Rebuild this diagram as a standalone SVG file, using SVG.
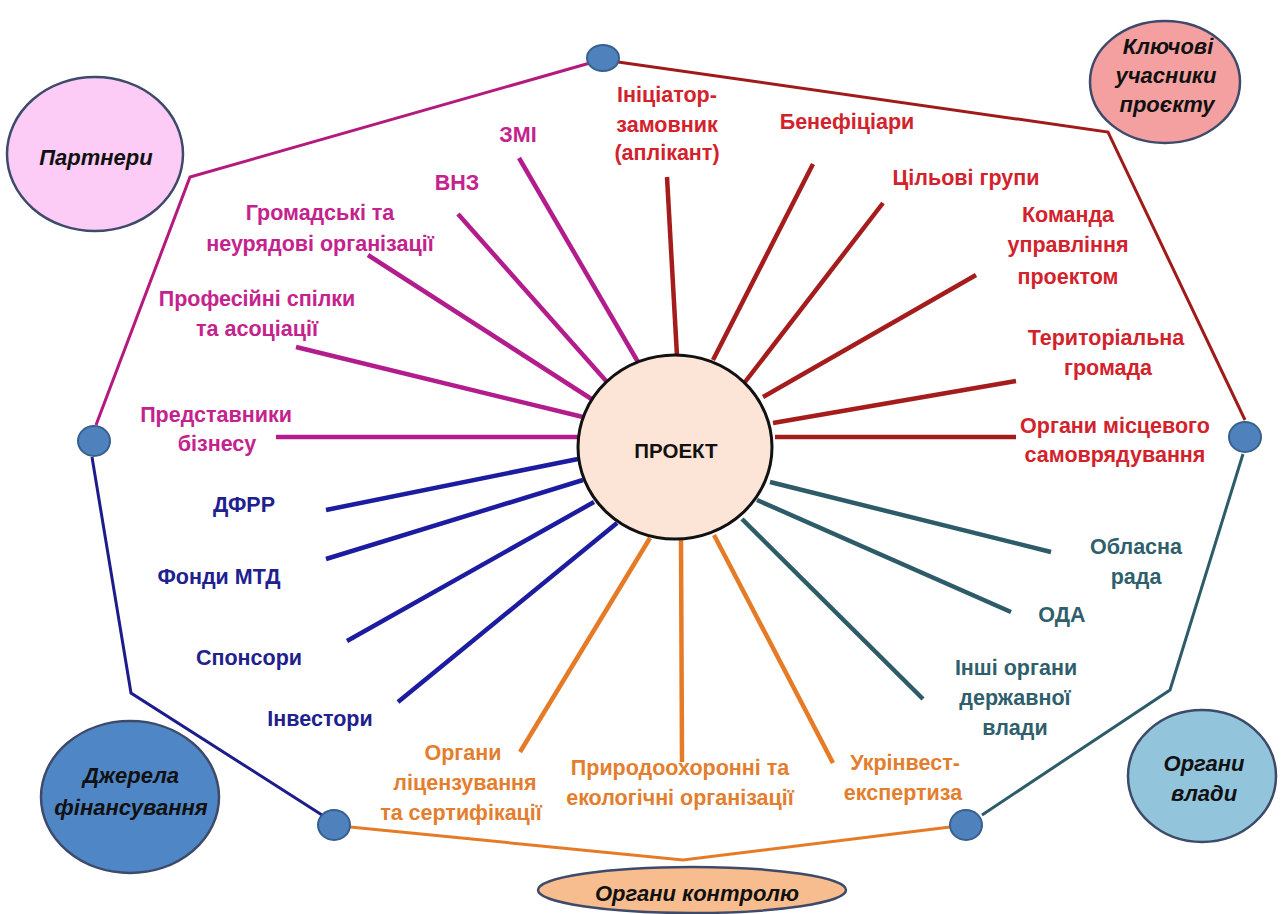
<svg xmlns="http://www.w3.org/2000/svg" width="1283" height="914" viewBox="0 0 1283 914">
<style>
text{font-family:"Liberation Sans",Arial,sans-serif;font-weight:bold;text-anchor:middle;dominant-baseline:central}
.lbl{font-size:21.5px}
.cat{font-size:22px;font-style:italic;fill:#111}
.oval{stroke:#3E4A6A;stroke-width:2.5}
.dot{fill:#4F81BD;stroke:#38608F;stroke-width:2}
.sp{stroke-width:4.5;stroke-linecap:butt;fill:none}
.pl{stroke-width:3;fill:none;stroke-linejoin:miter}
.mg{stroke:#B21C8C}.mgt{fill:#C4238E}
.rd{stroke:#A51C1C}.rdt{fill:#D2222C}
.bl{stroke:#1C1CA0}.blt{fill:#20208E}
.tl{stroke:#2D5C68}.tlt{fill:#2F5F6C}
.or{stroke:#E57B26}.ort{fill:#E37E2E}
</style>
<rect width="1283" height="914" fill="#fff"/>
<g id="connectors">
<polyline class="pl" stroke="#B4197E" points="590,63 190,177 96,425"/>
<polyline class="pl" stroke="#A01A1A" points="618,62 1108,132 1245,420"/>
<polyline class="pl" stroke="#1C1C8C" points="92,457 131,693 322,815"/>
<polyline class="pl" stroke="#E57B26" points="350,827 683,860 950,827"/>
<polyline class="pl" stroke="#2D5C68" points="982,815 1170,690 1243,454"/>
<line class="sp mg" x1="519" y1="158" x2="638" y2="362"/>
<line class="sp mg" x1="458" y1="214" x2="607" y2="382"/>
<line class="sp mg" x1="368" y1="255" x2="593" y2="400"/>
<line class="sp mg" x1="296" y1="347" x2="583" y2="417"/>
<line class="sp mg" x1="276" y1="437" x2="578" y2="437"/>
<line class="sp rd" x1="667" y1="177" x2="677" y2="356"/>
<line class="sp rd" x1="813" y1="164" x2="713" y2="360"/>
<line class="sp rd" x1="883" y1="203" x2="745" y2="382"/>
<line class="sp rd" x1="976" y1="275" x2="763" y2="397"/>
<line class="sp rd" x1="1016" y1="381" x2="773" y2="423"/>
<line class="sp rd" x1="1016" y1="437" x2="775" y2="437"/>
<line class="sp tl" x1="770" y1="482" x2="1051" y2="552"/>
<line class="sp tl" x1="757" y1="500" x2="1011" y2="612"/>
<line class="sp tl" x1="742" y1="519" x2="923" y2="699"/>
<line class="sp or" x1="650" y1="538" x2="520" y2="752"/>
<line class="sp or" x1="681" y1="540" x2="682" y2="762"/>
<line class="sp or" x1="714" y1="535" x2="833" y2="763"/>
<line class="sp bl" x1="326" y1="510" x2="578" y2="459"/>
<line class="sp bl" x1="326" y1="559" x2="583" y2="480"/>
<line class="sp bl" x1="347" y1="641" x2="594" y2="502"/>
<line class="sp bl" x1="398" y1="702" x2="617" y2="523"/>
</g>
<g id="dots">
<ellipse class="dot" cx="603" cy="58" rx="16" ry="13"/>
<ellipse class="dot" cx="94" cy="441" rx="16" ry="15"/>
<ellipse class="dot" cx="1245" cy="437" rx="16" ry="15"/>
<ellipse class="dot" cx="334" cy="825" rx="16" ry="15"/>
<ellipse class="dot" cx="966" cy="825" rx="16" ry="15"/>
</g>
<g id="project">
<ellipse cx="675" cy="447" rx="97" ry="92" fill="#FCE4D6" stroke="#111" stroke-width="3"/>
<text x="676" y="450" font-size="20.5" fill="#111">ПРОЕКТ</text>
</g>
<g id="partners">
<ellipse class="oval" cx="95" cy="154" rx="88" ry="77" fill="#FCCCF6"/>
<text class="cat" x="96" y="157">Партнери</text>
</g>
<g id="key-participants">
<ellipse class="oval" cx="1165" cy="82" rx="75" ry="61" fill="#F4A0A0"/>
<text class="cat" x="1168" y="46">Ключові</text>
<text class="cat" x="1166" y="75">учасники</text>
<text class="cat" x="1167" y="104">проєкту</text>
</g>
<g id="financing">
<ellipse class="oval" cx="130" cy="797" rx="89" ry="76" fill="#4F86C6"/>
<text class="cat" x="131" y="775">Джерела</text>
<text class="cat" x="131" y="807">фінансування</text>
</g>
<g id="authorities">
<ellipse class="oval" cx="1202" cy="776" rx="74" ry="66" fill="#92C5DC"/>
<text class="cat" x="1204" y="763">Органи</text>
<text class="cat" x="1204" y="793">влади</text>
</g>
<g id="control">
<ellipse class="oval" cx="692" cy="890" rx="154" ry="23" fill="#F8BD8E"/>
<text class="cat" x="697" y="893">Органи контролю</text>
</g>
<g id="zmi"><text class="lbl mgt" x="518" y="135">ЗМІ</text></g>
<g id="vnz"><text class="lbl mgt" x="457" y="183">ВНЗ</text></g>
<g id="ngo"><text class="lbl mgt" x="320" y="213">Громадські та</text><text class="lbl mgt" x="320" y="244">неурядові організації</text></g>
<g id="unions"><text class="lbl mgt" x="257" y="299">Професійні спілки</text><text class="lbl mgt" x="257" y="329">та асоціації</text></g>
<g id="business"><text class="lbl mgt" x="216" y="415">Представники</text><text class="lbl mgt" x="217" y="444">бізнесу</text></g>
<g id="initiator"><text class="lbl rdt" x="667" y="95">Ініціатор-</text><text class="lbl rdt" x="667" y="125">замовник</text><text class="lbl rdt" x="667" y="153">(аплікант)</text></g>
<g id="beneficiaries"><text class="lbl rdt" x="847" y="122">Бенефіціари</text></g>
<g id="target-groups"><text class="lbl rdt" x="966" y="178">Цільові групи</text></g>
<g id="team"><text class="lbl rdt" x="1068" y="215">Команда</text><text class="lbl rdt" x="1068" y="245">управління</text><text class="lbl rdt" x="1068" y="277">проектом</text></g>
<g id="community"><text class="lbl rdt" x="1106" y="338">Територіальна</text><text class="lbl rdt" x="1108" y="368">громада</text></g>
<g id="local-gov"><text class="lbl rdt" x="1115" y="426">Органи місцевого</text><text class="lbl rdt" x="1115" y="455">самоврядування</text></g>
<g id="oblrada"><text class="lbl tlt" x="1136" y="547">Обласна</text><text class="lbl tlt" x="1136" y="577">рада</text></g>
<g id="oda"><text class="lbl tlt" x="1062" y="615">ОДА</text></g>
<g id="other-gov"><text class="lbl tlt" x="1016" y="668">Інші органи</text><text class="lbl tlt" x="1015" y="698">державної</text><text class="lbl tlt" x="1015" y="728">влади</text></g>
<g id="licensing"><text class="lbl ort" x="463" y="753">Органи</text><text class="lbl ort" x="465" y="783">ліцензування</text><text class="lbl ort" x="461" y="813">та сертифікації</text></g>
<g id="eco"><text class="lbl ort" x="680" y="768">Природоохоронні та</text><text class="lbl ort" x="680" y="798">екологічні організації</text></g>
<g id="ukrinvest"><text class="lbl ort" x="905" y="763">Укрінвест-</text><text class="lbl ort" x="903" y="793">експертиза</text></g>
<g id="dfrr"><text class="lbl blt" x="244" y="505">ДФРР</text></g>
<g id="mtd"><text class="lbl blt" x="219" y="577">Фонди МТД</text></g>
<g id="sponsors"><text class="lbl blt" x="249" y="658">Спонсори</text></g>
<g id="investors"><text class="lbl blt" x="320" y="719">Інвестори</text></g>
</svg>
